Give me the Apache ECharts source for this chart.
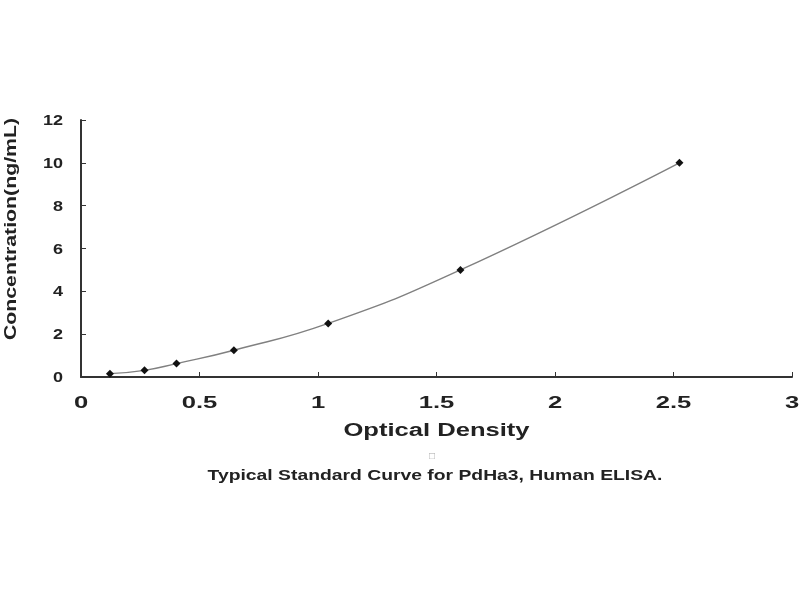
<!DOCTYPE html>
<html><head><meta charset="utf-8">
<script src="https://cdn.jsdelivr.net/npm/echarts@6/dist/echarts.min.js"></script>
<style>html,body{margin:0;padding:0;background:#fff}#c{width:800px;height:600px}</style>
</head><body><div id="c"></div>
<script>
const od = [0.122, 0.268, 0.403, 0.645, 1.043, 1.601, 2.525];
const conc = [0.156, 0.312, 0.625, 1.25, 2.5, 5, 10];
const xTicks = [0, 0.5, 1, 1.5, 2, 2.5, 3];
const yTicks = [0, 2, 4, 6, 8, 10, 12];
const xTitle = 'Optical Density';
const yTitle = 'Concentration(ng/mL)';
const caption = 'Typical Standard Curve for PdHa3, Human ELISA.';

const chart = echarts.init(document.getElementById('c'));
const font = 'Liberation Sans, Arial, sans-serif';
chart.setOption({
  animation: false,
  backgroundColor: '#fff',
  grid: {left: 81, right: 8, top: 120, bottom: 223},
  xAxis: {
    type: 'value', min: xTicks[0], max: xTicks[xTicks.length-1], interval: 0.5,
    axisLine: {lineStyle: {color: '#333', width: 2}},
    axisTick: {inside: true, length: 5, lineStyle: {color: '#333'}},
    axisLabel: {show: false},
    splitLine: {show: false}
  },
  yAxis: {
    type: 'value', min: yTicks[0], max: yTicks[yTicks.length-1], interval: 2,
    axisLine: {lineStyle: {color: '#333', width: 2}},
    axisTick: {inside: true, length: 5, lineStyle: {color: '#333'}},
    axisLabel: {show: false},
    splitLine: {show: false}
  },
  series: [{
    type: 'line', smooth: true,
    data: od.map((x, i) => [x, conc[i]]),
    symbol: 'diamond', symbolSize: 8,
    itemStyle: {color: '#111'},
    lineStyle: {color: '#808080', width: 1.4}
  }]
});

const g = [];
const txt = (text, x, y, size, sx, align, rot) => ({
  type: 'text', x: x, y: y, scaleX: sx, rotation: rot || 0,
  style: {text: text, fontSize: size, fontWeight: 'bold', fill: '#222', fontFamily: font,
    textAlign: align || 'center', textVerticalAlign: 'middle'}
});
xTicks.forEach(v => {
  const px = chart.convertToPixel({xAxisIndex: 0}, v);
  g.push(txt(String(v), px, 404, 16, 1.6, 'center'));
});
yTicks.forEach(v => {
  const py = chart.convertToPixel({yAxisIndex: 0}, v);
  g.push(txt(String(v), 63, py + 1, 15, 1.2, 'right'));
});
const xMid = (chart.convertToPixel({xAxisIndex: 0}, xTicks[0]) + chart.convertToPixel({xAxisIndex: 0}, xTicks[xTicks.length-1])) / 2;
g.push(txt(xTitle, xMid, 431, 18, 1.42, 'center'));
g.push(txt(yTitle, 12, 229, 16, 1.33, 'center', Math.PI / 2));
g.push({type: 'text', x: 432, y: 456, style: {text: '□', fontSize: 10, fill: '#aaa', fontFamily: font, textAlign: 'center', textVerticalAlign: 'middle'}});
g.push(txt(caption, 435, 476, 14, 1.38, 'center'));
chart.setOption({graphic: g});
</script></body></html>
